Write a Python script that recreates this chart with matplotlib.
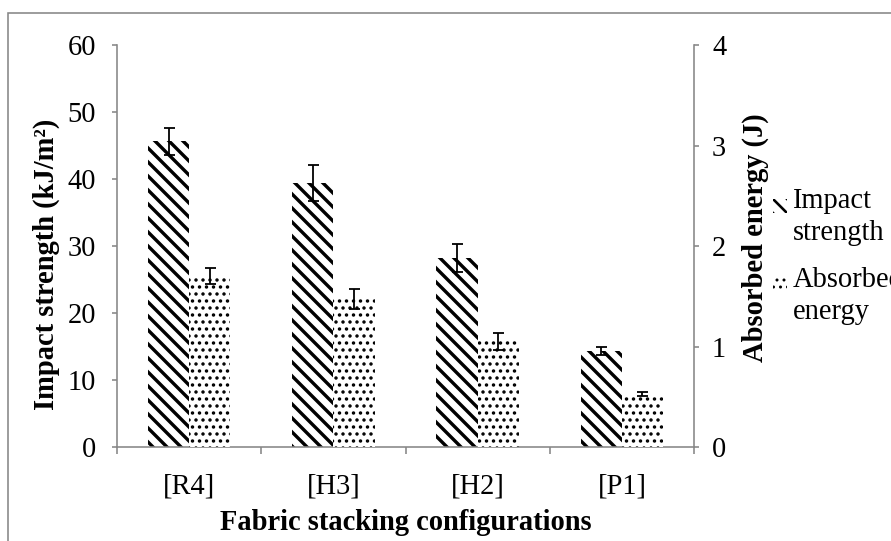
import numpy as np
import matplotlib
matplotlib.use('Agg')
import matplotlib.pyplot as plt
from matplotlib.patches import Rectangle
from matplotlib.legend_handler import HandlerPatch

# data
configs = ['[R4]', '[H3]', '[H2]', '[P1]']
impact_strength = [45.6, 39.4, 28.2, 14.4]      # kJ/m2
impact_err = [2.0, 2.7, 2.1, 0.6]
absorbed_energy = [1.70, 1.47, 1.05, 0.53]      # J
absorbed_err = [0.08, 0.10, 0.08, 0.02]

# dpi chosen so that the hatch unit cell gives the stripe spacing of the original
DPI = 84
W, H = 891, 541


def px(n):
    """pixels -> points at the chosen dpi"""
    return n * 72 / DPI


GRAY = '#878787'
FS = px(28.5)
plt.rcParams['font.family'] = ['Liberation Serif', 'DejaVu Serif']
plt.rcParams['font.size'] = FS


class TopSquareHandler(HandlerPatch):
    """Small hatched square next to the first line of a two line label."""
    def __init__(self, hatch_lw, **kw):
        super().__init__(**kw)
        self.hatch_lw = hatch_lw

    def create_artists(self, legend, orig_handle, xdescent, ydescent,
                       width, height, fontsize, trans):
        s = width
        yc = fontsize * 0.75
        plt.rcParams['hatch.linewidth'] = self.hatch_lw
        p = Rectangle((-xdescent, yc - s / 2), s, s,
                      facecolor='white', edgecolor='black', linewidth=0,
                      hatch=orig_handle.get_hatch())
        p.set_transform(trans)
        return [p]


fig = plt.figure(figsize=(W / DPI, H / DPI), dpi=DPI)
ax = fig.add_axes([117 / W, 1 - 447 / H, 577 / W, 402 / H])
ax2 = ax.twinx()

x = np.arange(len(configs))
w = 1 / 3.5

plt.rcParams['hatch.linewidth'] = px(3.4)
b1 = ax.bar(x - w / 2, impact_strength, w, color='white', edgecolor='black',
            linewidth=0, hatch='\\\\')
plt.rcParams['hatch.linewidth'] = px(2.0)
b2 = ax2.bar(x + w / 2, absorbed_energy, w, color='white', edgecolor='black',
             linewidth=0, hatch='..')

ax.errorbar(x - w / 2, impact_strength, yerr=impact_err, fmt='none',
            ecolor='black', elinewidth=px(1.8), capsize=px(5.5), capthick=px(1.8))
ax2.errorbar(x + w / 2, absorbed_energy, yerr=absorbed_err, fmt='none',
             ecolor='black', elinewidth=px(1.8), capsize=px(5.5), capthick=px(1.8))

ax.set_xlim(-0.5, 3.5)
ax.set_ylim(0, 60)
ax2.set_ylim(0, 4)
ax.set_yticks(np.arange(0, 61, 10))
ax2.set_yticks(np.arange(0, 5, 1))
ax.set_xticks(x)
ax.set_xticklabels(configs)
ax.set_xticks(np.arange(-0.5, 4, 1), minor=True)

for a in (ax, ax2):
    a.spines['top'].set_visible(False)
    for side in ('left', 'right', 'bottom'):
        a.spines[side].set_color(GRAY)
        a.spines[side].set_linewidth(px(1.6))
ax.spines['right'].set_visible(False)
ax2.spines['left'].set_visible(False)
ax2.spines['bottom'].set_visible(False)

ax.tick_params(axis='x', which='major', length=0, pad=px(26))
ax.tick_params(axis='x', which='minor', length=px(7), width=px(1.6), color=GRAY,
               direction='out')
ax.tick_params(axis='y', length=px(5), width=px(1.6), color=GRAY, pad=px(16))
ax2.tick_params(axis='y', length=px(5), width=px(1.6), color=GRAY, pad=px(13))

ax.set_xlabel('Fabric stacking configurations', fontweight='bold',
              labelpad=px(10))
ax.set_ylabel('Impact strength (kJ/m²)', fontweight='bold')
ax2.set_ylabel('Absorbed energy (J)', fontweight='bold')
ax.yaxis.set_label_coords(-0.099, 0.455)
ax2.yaxis.set_label_coords(1.083, 0.52)

h1, h2 = b1.patches[0], b2.patches[0]
leg = fig.legend(handles=[h1, h2], labels=['Impact\nstrength', 'Absorbed\nenergy'],
                 loc='upper left', bbox_to_anchor=(773 / W, 1 - 188 / H),
                 frameon=False, fontsize=FS, handlelength=0.5, handleheight=0.7,
                 handletextpad=0.18, labelspacing=0.72, borderpad=0,
                 borderaxespad=0,
                 handler_map={h1: TopSquareHandler(px(2.6)),
                              h2: TopSquareHandler(px(1.6))})
for t in leg.get_texts():
    t.set_linespacing(1.3)

# outer chart frame, cropped on the right and bottom
fig.add_artist(Rectangle((8 / W, -0.1), 1.2, 1.1 - 13 / H,
                         transform=fig.transFigure, fill=False,
                         edgecolor=GRAY, linewidth=px(1.6)))

fig.savefig('out.png', dpi=DPI)
